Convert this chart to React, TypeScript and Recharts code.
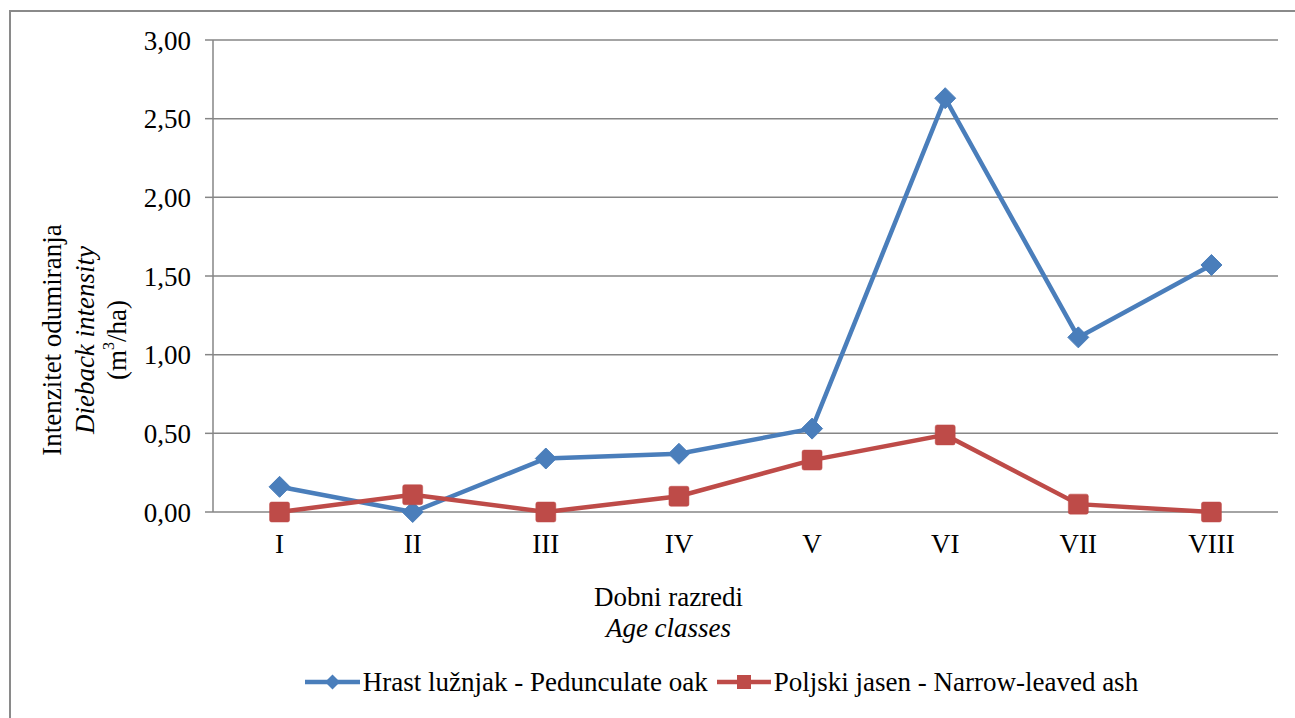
import React from 'react';
import { ComposedChart, Line, XAxis, YAxis, CartesianGrid, Legend } from 'recharts';

const ageClasses = ['I', 'II', 'III', 'IV', 'V', 'VI', 'VII', 'VIII'];
const oakValues = [0.16, 0.0, 0.34, 0.37, 0.53, 2.63, 1.11, 1.57];
const ashValues = [0.0, 0.11, 0.0, 0.1, 0.33, 0.49, 0.05, 0.0];
const yTicks = [0, 0.5, 1, 1.5, 2, 2.5, 3];
const bandTicks = [0, 1, 2, 3, 4, 5, 6, 7, 8];
const oakName = 'Hrast lužnjak - Pedunculate oak';
const ashName = 'Poljski jasen - Narrow-leaved ash';

const BLUE = '#4a7ebb';
const RED = '#be4b48';
const GRID = '#868686';
const FONT = '"Liberation Serif", "Times New Roman", serif';
const FS = 27;

const data = ageClasses.map((c, i) => ({ cls: c, oak: oakValues[i], ash: ashValues[i] }));

const fmt = (v: number) => v.toFixed(2).replace('.', ',');

const Diamond = (props: any) => {
  const { cx, cy } = props;
  if (cx == null || cy == null) return null;
  const r = 10.5;
  return (
    <path
      d={`M${cx},${cy - r} L${cx + r},${cy} L${cx},${cy + r} L${cx - r},${cy} Z`}
      fill={BLUE}
      stroke={BLUE}
      strokeWidth={1}
      strokeLinejoin="round"
    />
  );
};

const Square = (props: any) => {
  const { cx, cy } = props;
  if (cx == null || cy == null) return null;
  const s = 10;
  return <rect x={cx - s} y={cy - s} width={2 * s} height={2 * s} rx={2} fill={RED} stroke={RED} strokeWidth={0.5} />;
};

const YTitle = () => (
  <g fontFamily={FONT} fontSize={FS} fill="#000">
    <text x={52} y={340} transform="rotate(-90 52 340)" textAnchor="middle" dominantBaseline="central">
      Intenzitet odumiranja
    </text>
    <text x={85} y={340} transform="rotate(-90 85 340)" textAnchor="middle" dominantBaseline="central" fontStyle="italic">
      Dieback intensity
    </text>
    <text x={117} y={340} transform="rotate(-90 117 340)" textAnchor="middle" dominantBaseline="central">
      (m<tspan fontSize={16} dy={-9}>3</tspan>
      <tspan dy={9}>/ha)</tspan>
    </text>
  </g>
);

const XTitle = (props: any) => {
  const vb = props.viewBox || { x: 0, y: 0, width: 0 };
  const cx = vb.x + vb.width / 2 - 77;
  return (
    <g fontFamily={FONT} fontSize={FS} fill="#000">
      <text x={cx} y={606} textAnchor="middle">Dobni razredi</text>
      <text x={cx} y={637} textAnchor="middle" fontStyle="italic">Age classes</text>
    </g>
  );
};

const LegendContent = () => (
  <div
    style={{
      height: 40,
      display: 'flex',
      justifyContent: 'center',
      alignItems: 'center',
      fontFamily: FONT,
      fontSize: FS,
      color: '#000',
      transform: 'translateX(82px)',
      whiteSpace: 'nowrap',
    }}
  >
    <svg width={57} height={20} style={{ marginRight: 2 }}>
      <line x1={1} y1={10} x2={56} y2={10} stroke={BLUE} strokeWidth={4.5} />
      <path d="M28.5,2.5 L36,10 L28.5,17.5 L21,10 Z" fill={BLUE} />
    </svg>
    <span>{oakName}</span>
    <svg width={56} height={20} style={{ marginLeft: 8, marginRight: 2 }}>
      <line x1={1} y1={10} x2={55} y2={10} stroke={RED} strokeWidth={4.5} />
      <rect x={21} y={3} width={14} height={14} fill={RED} />
    </svg>
    <span>{ashName}</span>
  </div>
);

export default function App() {
  return (
    <div style={{ position: 'absolute', left: 0, top: 0, width: 1295, height: 718, background: '#fff', overflow: 'hidden' }}>
      <div
        style={{
          position: 'absolute',
          left: 9,
          top: 10,
          width: 1320,
          height: 740,
          borderLeft: '2px solid #8a8a8a',
          borderTop: '2px solid #8a8a8a',
        }}
      />
      <div style={{ position: 'absolute', left: 0, top: 0 }}>
        <ComposedChart width={1295} height={718} data={data} margin={{ top: 40, right: 17, left: 0, bottom: 16 }}>
          <CartesianGrid xAxisId="cat" vertical={false} stroke={GRID} strokeWidth={1.5} />
          <XAxis
            xAxisId="band"
            type="number"
            domain={[0, 8]}
            ticks={bandTicks}
            allowDataOverflow
            tick={false}
            height={0}
            tickSize={7}
            axisLine={{ stroke: GRID, strokeWidth: 1.5 }}
            tickLine={{ stroke: GRID, strokeWidth: 1.5 }}
          />
          <XAxis
            xAxisId="cat"
            dataKey="cls"
            scale="band"
            axisLine={false}
            tickLine={false}
            tickSize={6}
            tickMargin={16}
            height={150}
            tick={{ fontFamily: FONT, fontSize: FS, fill: '#000' }}
            label={<XTitle />}
          />
          <YAxis
            width={213}
            domain={[0, 3]}
            ticks={yTicks}
            tickFormatter={fmt}
            tickSize={8}
            tickMargin={14}
            axisLine={{ stroke: GRID, strokeWidth: 1.5 }}
            tickLine={{ stroke: GRID, strokeWidth: 1.5 }}
            tick={{ fontFamily: FONT, fontSize: FS, fill: '#000' }}
            label={<YTitle />}
          />
          <Legend verticalAlign="bottom" content={<LegendContent />} />
          <Line
            xAxisId="cat"
            type="linear"
            dataKey="oak"
            name={oakName}
            stroke={BLUE}
            strokeWidth={4.5}
            dot={<Diamond />}
            activeDot={false}
            isAnimationActive={false}
          />
          <Line
            xAxisId="cat"
            type="linear"
            dataKey="ash"
            name={ashName}
            stroke={RED}
            strokeWidth={4.5}
            dot={<Square />}
            activeDot={false}
            isAnimationActive={false}
          />
        </ComposedChart>
      </div>
    </div>
  );
}
